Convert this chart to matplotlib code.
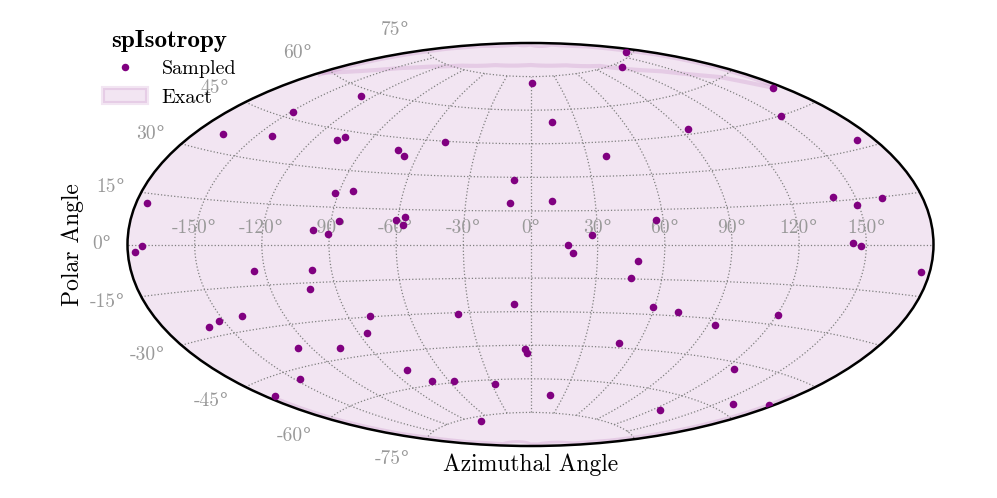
import os
import tempfile
import numpy as np
import matplotlib
matplotlib.use('Agg')
import matplotlib.pyplot as plt
import matplotlib.font_manager as fm
from matplotlib.patches import Patch
from matplotlib.transforms import Affine2D
from fontTools.ttLib import TTFont

# cmr10 tiene "fl" en el codigo del grado: se lo quito para que el simbolo venga de la otra fuente
cm = TTFont(os.path.join(matplotlib.get_data_path(), 'fonts/ttf/cmr10.ttf'))
for tabla in cm['cmap'].tables:
    tabla.cmap.pop(0xB0, None)
for rec in cm['name'].names:
    if rec.nameID in (1, 3, 4, 6):
        rec.string = 'cmr10nodeg'
ruta = os.path.join(tempfile.mkdtemp(), 'cmr10nodeg.ttf')
cm.save(ruta)
fm.fontManager.addfont(ruta)

plt.rcParams['font.family'] = ['cmr10nodeg', 'DejaVu Serif']
plt.rcParams['axes.unicode_minus'] = False

# puntos muestreados, en grados
sampled_lon = [-148.7, -166.8, -142.4, -174.9, -97.7, -90.8, -173.4, -127.6, 1.3, -107.4, -105.1, -48.7,
               -71.4, -66.6, -91.9, -83.7, -8.1, -9.5, -86.3, -57.1, -60.6, -57.3, 167.2, 121.1,
               14.4, 94.3, 40.0, 10.0, 56.5, 27.5, 16.6, 175.1, 151.7, 171.8, 139.8, 161.7, 149.3, 144.2, 147.4,
               -176.6, -125.1, -98.7, -101.9, -139.9, -152.1, -159.1, -126.9, -147.5,
               -174.9, -79.4, -35.7, -7.9, -86.0, -105.7, -3.0, -2.3, -80.6, -71.6, -56.6, -27.8, -73.8,
               19.0, 48.2, 45.7, 59.0, 72.4, 93.2, 49.4, 124.9, 17.3, 124.7, 158.8,
               176.2, 120.6, 177.7]
sampled_lat = [47.1, 35.6, 38.4, 12.1, 5.8, 4.3, -0.5, 57.5, 72.1, 41.0, 42.6, 44.8,
               39.8, 37.5, 20.7, 21.8, 28.8, 18.4, 9.4, 11.7, 10.4, 8.5, 76.0, 73.6,
               54.6, 47.2, 38.8, 19.3, 10.5, 4.2, 0.0, 52.3, 44.8, 32.6, 16.3, 14.6, 13.0, 0.4, -0.4,
               -2.2, -9.7, -10.0, -17.4, -25.0, -25.5, -26.8, -38.5, -48.3,
               -49.8, -29.6, -30.7, -26.6, -36.5, -40.9, -46.5, -48.6, -52.7, -58.4, -59.3, -61.9, -76.9,
               -3.9, -7.2, -14.4, -26.6, -28.3, -32.3, -42.9, -47.3, -66.9, -66.2, -57.1,
               -8.0, -26.4, -53.4]

# region exacta y sus bordes
exact_lon = [-180, 180]
exact_low = [-90, -90]
exact_high = [90, 90]
inner_lon = [-178.0, -146.4, -128.8, -104.4, -60.8, -0.9, 59.0, 102.0, 139.7, 163.5, 175.6]
inner_lat = [59.0, 68.9, 72.6, 76.0, 79.0, 80.2, 79.0, 76.0, 68.3, 60.3, 52.0]
top_lon = [-176.6, -175.2, -171.4, -165.4, -131.5, 0.0, 146.6, 167.1, 174.2, 176.2, 177.1]
top_lat = [58.0, 68.0, 78.0, 82.9, 87.8, 89.1, 86.9, 81.9, 72.0, 62.0, 52.0]
bottom_lon = [-177.1, -176.3, -174.5, -168.5, -154.6, 0.0, 96.0, 163.0, 170.6, 175.0, 176.5, 177.3]
bottom_lat = [-51.0, -61.0, -71.0, -81.0, -85.9, -89.1, -88.7, -83.9, -79.0, -69.0, -59.0, -49.0]

fig = plt.figure(figsize=(9.97, 4.98), dpi=100)
ax = fig.add_axes([127 / 997, 52 / 498, 807 / 997, 403 / 498], projection='aitoff')

ax.fill_between(np.radians(exact_lon), np.radians(exact_low), np.radians(exact_high),
                color='purple', alpha=0.1, lw=0, zorder=1)
ax.plot(np.radians(inner_lon), np.radians(inner_lat), color='purple', alpha=0.11, lw=3, zorder=1)
for lo, la in [(top_lon, top_lat), (bottom_lon, bottom_lat)]:
    ax.plot(np.radians(lo), np.radians(la), color='purple', alpha=0.11, lw=2, zorder=1)
ax.scatter(np.radians(sampled_lon), np.radians(sampled_lat), s=30, color='purple', lw=0, zorder=3)

ax.grid(True, ls=':', color='grey', lw=0.9)
ax.tick_params(labelsize=14, labelcolor='#999999')
ax.spines['geo'].set_linewidth(1.8)

# las etiquetas van mas separadas que en el aitoff por defecto
for t in ax.yaxis.get_major_ticks():
    t.label1.set_transform(t.label1.get_transform() + Affine2D().translate(-8, 0))
for t in ax.xaxis.get_major_ticks():
    t.label1.set_transform(t.label1.get_transform() + Affine2D().translate(0, 4))

ax.set_xlabel('Azimuthal Angle', fontsize=17, va='center')
ax.xaxis.set_label_coords(0.5, -0.047)
ax.set_ylabel('Polar Angle', fontsize=17, va='center')
ax.yaxis.set_label_coords(-0.068, 0.5)

handles = [plt.Line2D([], [], ls='', marker='o', ms=5.4, color='purple', mew=0, label='Sampled'),
           Patch(facecolor=(0.5, 0, 0.5, 0.1), edgecolor=(0.5, 0, 0.5, 0.1), lw=3, label='Exact')]
leg = fig.legend(handles=handles, title='spIsotropy', frameon=False, fontsize=14.5,
                 title_fontproperties={'family': 'cmb10', 'size': 18},
                 loc='upper left', bbox_to_anchor=(103 / 997, 1 - 30 / 498),
                 borderaxespad=0, borderpad=0, handlelength=2.2, handletextpad=0.7, labelspacing=0.5)
leg._legend_box.sep = 6

plt.savefig('out.png', dpi=100)
